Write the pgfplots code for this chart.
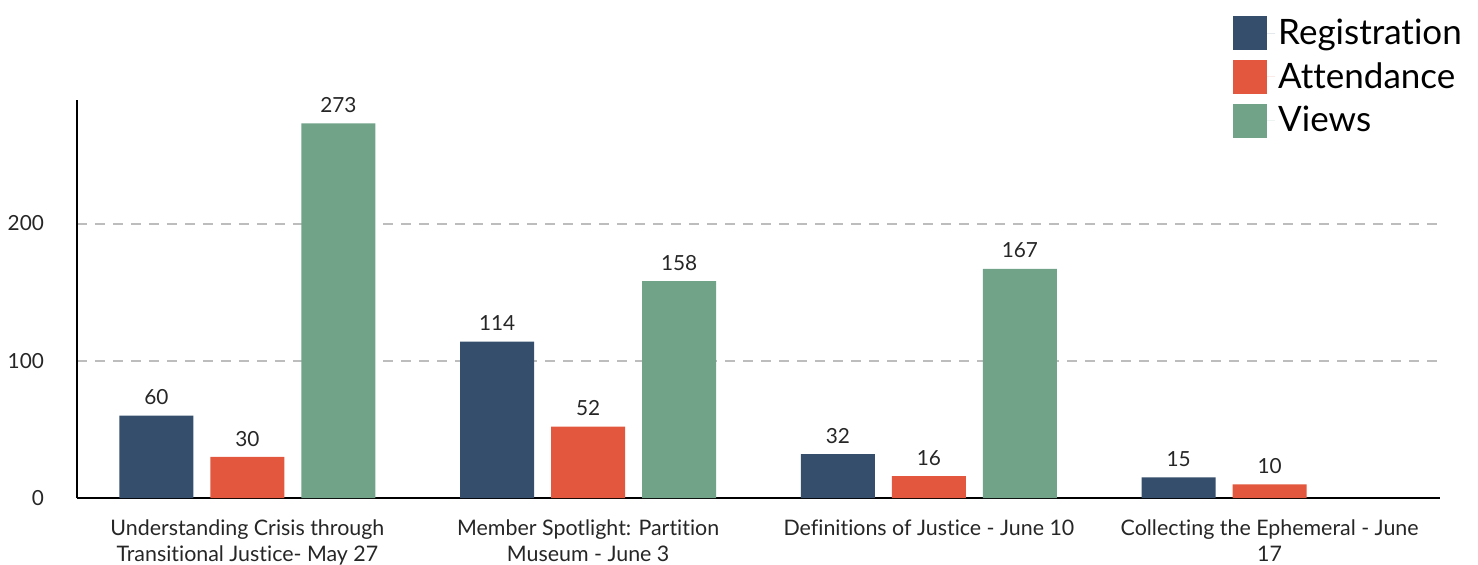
\documentclass[border=0pt]{standalone}
\usepackage{fontspec}
\setmainfont{Lato}[Ligatures=NoCommon]
\usepackage{pgfplots}
\pgfplotsset{compat=1.18}
\definecolor{reg}{HTML}{344E6B}
\definecolor{att}{HTML}{E2573E}
\definecolor{vie}{HTML}{71A389}
\definecolor{gridc}{HTML}{BDBDBD}
\begin{document}
\begin{tikzpicture}
\begin{axis}[
  at={(0,0)}, anchor=south west,
  scale only axis, width=681.5pt, height=199pt,
  xmin=-0.5, xmax=3.5, ymin=0, ymax=290,
  axis x line*=bottom, axis y line*=left,
  axis line style={black, line width=1pt},
  ytick={0,100,200},
  xtick={0,1,2,3},
  xticklabels={{Understanding Crisis through\\Transitional Justice- May 27},{Member Spotlight: Partition\\Museum - June 3},{Definitions of Justice - June 10},{Collecting the Ephemeral - June\\17}},
  major tick length=0pt,
  /pgf/number format/assume math mode=true,
  tick label style={font=\fontsize{10.4}{12}\selectfont, text=black!85},
  xticklabel style={align=center, yshift=-7.3pt, font=\fontsize{10.7}{13}\selectfont},
  yticklabel style={xshift=-13pt},
  ymajorgrids,
  grid style={gridc, line width=1pt, dash pattern=on 5pt off 4pt},
  ybar, bar width=37pt,
  nodes near coords,
  every node near coord/.append style={font=\fontsize{10.4}{12}\selectfont, text=black!85, yshift=1.8pt},
  legend style={at={(0.848,1.212)}, anchor=north west, draw=none, fill=none, inner sep=0pt,
    font=\fontsize{17.5}{20}\selectfont, row sep=4.5pt,
    nodes={inner sep=1.5pt, anchor=west}},
  legend cell align=left,
  legend image code/.code={\fill[#1] (0pt,-8.5pt) rectangle (17pt,8.5pt); \path (0pt,0pt) -- (21pt,0pt);},
]
\addplot[fill=reg, draw=none, bar shift=-45.5pt] coordinates {(0,60) (1,114) (2,32) (3,15)};
\addplot[fill=att, draw=none, bar shift=0pt] coordinates {(0,30) (1,52) (2,16) (3,10)};
\addplot[fill=vie, draw=none, bar shift=45.5pt] coordinates {(0,273) (1,158) (2,167)};
\legend{Registration, Attendance, Views}
\end{axis}
\pgfresetboundingbox
\path (-38.5pt,-33pt) rectangle (700.5pt,249pt);
\end{tikzpicture}
\end{document}
